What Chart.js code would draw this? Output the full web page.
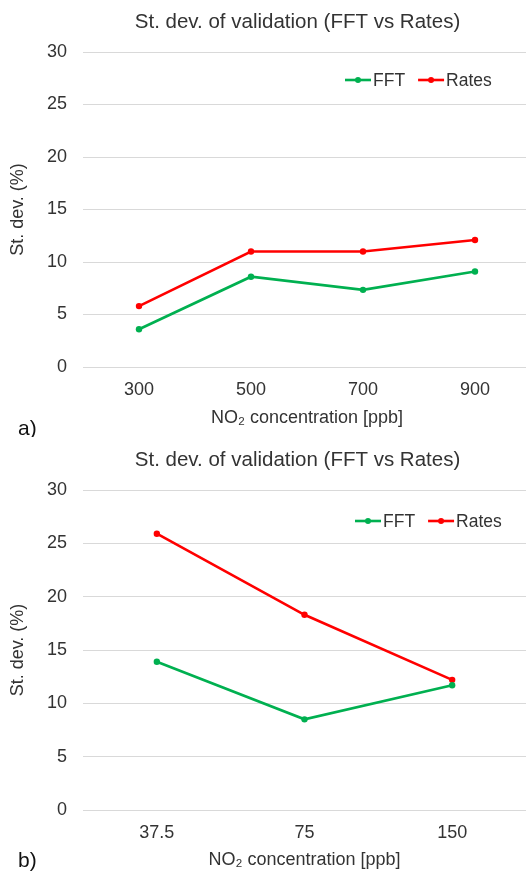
<!DOCTYPE html>
<html>
<head>
<meta charset="utf-8">
<script src="https://cdn.jsdelivr.net/npm/chart.js@4/dist/chart.umd.min.js"></script>
<style>
  html, body { margin: 0; padding: 0; background: #fff; }
  .panel { width: 526px; height: 437px; overflow: hidden; position: relative; }
  canvas { display: block; }
</style>
</head>
<body>
<div class="panel"><canvas id="chartA" width="531" height="437"></canvas></div>
<div class="panel"><canvas id="chartB" width="526" height="437"></canvas></div>
<script>
// panel a) – higher concentrations
const concA = ['300', '500', '700', '900'];
const fftA = [3.6, 8.6, 7.35, 9.1];
const ratesA = [5.8, 11.0, 11.0, 12.1];

// panel b) – low concentrations
const concB = ['37.5', '75', '150'];
const fftB = [13.9, 8.5, 11.7];
const ratesB = [25.9, 18.3, 12.2];

const seriesNames = ['FFT', 'Rates'];
const seriesColors = ['#00b050', '#ff0000'];
const yMin = 0, yMax = 30, yStep = 5;

const chartTitle = 'St. dev. of validation (FFT vs Rates)';
const yTitle = 'St. dev. (%)';
const xTitle = 'NO\u2082 concentration [ppb]';

const FONT = '"Liberation Sans", Arial, sans-serif';
const TEXT = '#333333';
Chart.defaults.font.family = FONT;
Chart.defaults.color = TEXT;

// chart title, centred a bit right of the canvas middle
const topTitle = {
    id: 'topTitle',
    afterDraw(chart, args, opts) {
        const ctx = chart.ctx;
        ctx.save();
        ctx.font = '20.5px ' + FONT;
        ctx.fillStyle = TEXT;
        ctx.textAlign = 'center';
        ctx.textBaseline = 'middle';
        ctx.fillText(opts.text, opts.x, opts.y);
        ctx.restore();
    }
};

// legend drawn inside the plot area, top right
const insideLegend = {
    id: 'insideLegend',
    afterDraw(chart, args, opts) {
        const ctx = chart.ctx;
        let x = opts.x;
        const y = opts.y;
        ctx.save();
        ctx.font = '17.5px ' + FONT;
        ctx.textBaseline = 'middle';
        chart.data.datasets.forEach(ds => {
            ctx.strokeStyle = ds.borderColor;
            ctx.lineWidth = 2.6;
            ctx.beginPath();
            ctx.moveTo(x, y);
            ctx.lineTo(x + 26, y);
            ctx.stroke();
            ctx.fillStyle = ds.borderColor;
            ctx.beginPath();
            ctx.arc(x + 13, y, 3, 0, Math.PI * 2);
            ctx.fill();
            ctx.fillStyle = TEXT;
            ctx.fillText(ds.label, x + 28, y + 1);
            x += 28 + ctx.measureText(ds.label).width + 13;
        });
        ctx.restore();
    }
};

// panel letter in the lower left corner
const panelTag = {
    id: 'panelTag',
    afterDraw(chart, args, opts) {
        const ctx = chart.ctx;
        ctx.save();
        ctx.font = '21px ' + FONT;
        ctx.fillStyle = '#111';
        ctx.textBaseline = 'middle';
        ctx.fillText(opts.text, opts.x, opts.y);
        ctx.restore();
    }
};

function makeChart(id, labels, fft, rates, cfg) {
    return new Chart(document.getElementById(id), {
        type: 'line',
        data: {
            labels: labels,
            datasets: [fft, rates].map((vals, i) => ({
                label: seriesNames[i],
                data: vals,
                borderColor: seriesColors[i],
                backgroundColor: seriesColors[i],
                borderWidth: 2.6,
                pointRadius: 3.2,
                pointBorderWidth: 0,
                tension: 0
            }))
        },
        options: {
            responsive: false,
            animation: false,
            devicePixelRatio: 1,
            layout: { padding: { top: cfg.plotTop, left: 0, right: 0, bottom: 0 }, autoPadding: false },
            plugins: {
                legend: { display: false },
                tooltip: { enabled: false },
                title: { display: false },
                topTitle: { text: chartTitle, x: 297.5, y: cfg.titleY },
                insideLegend: cfg.legend,
                panelTag: cfg.tag
            },
            scales: {
                x: {
                    offset: true,
                    grid: { display: false, drawTicks: false },
                    border: { display: false },
                    ticks: { font: { size: 18 }, padding: 12, color: TEXT },
                    title: {
                        display: true,
                        text: xTitle,
                        color: TEXT,
                        font: { size: 18 },
                        padding: { top: 0, bottom: cfg.xTitlePad }
                    },
                    afterFit(s) { s.height = cfg.xHeight; }
                },
                y: {
                    min: yMin,
                    max: yMax,
                    ticks: { stepSize: yStep, font: { size: 18 }, padding: 16, color: TEXT },
                    grid: { color: '#d9d9d9', lineWidth: 1, drawTicks: false },
                    border: { display: false },
                    title: {
                        display: true,
                        text: yTitle,
                        color: TEXT,
                        font: { size: 18 },
                        padding: { top: 7, bottom: 0 }
                    },
                    afterFit(s) { s.width = 83; }
                }
            }
        },
        plugins: [topTitle, insideLegend, panelTag]
    });
}

makeChart('chartA', concA, fftA, ratesA, {
    plotTop: 52, titleY: 22, xHeight: 70, xTitlePad: 8,
    legend: { x: 345, y: 80 },
    tag: { text: 'a)', x: 18, y: 429 }
});

makeChart('chartB', concB, fftB, ratesB, {
    plotTop: 53, titleY: 23, xHeight: 64, xTitlePad: 3,
    legend: { x: 355, y: 84 },
    tag: { text: 'b)', x: 18, y: 424 }
});
</script>
</body>
</html>
